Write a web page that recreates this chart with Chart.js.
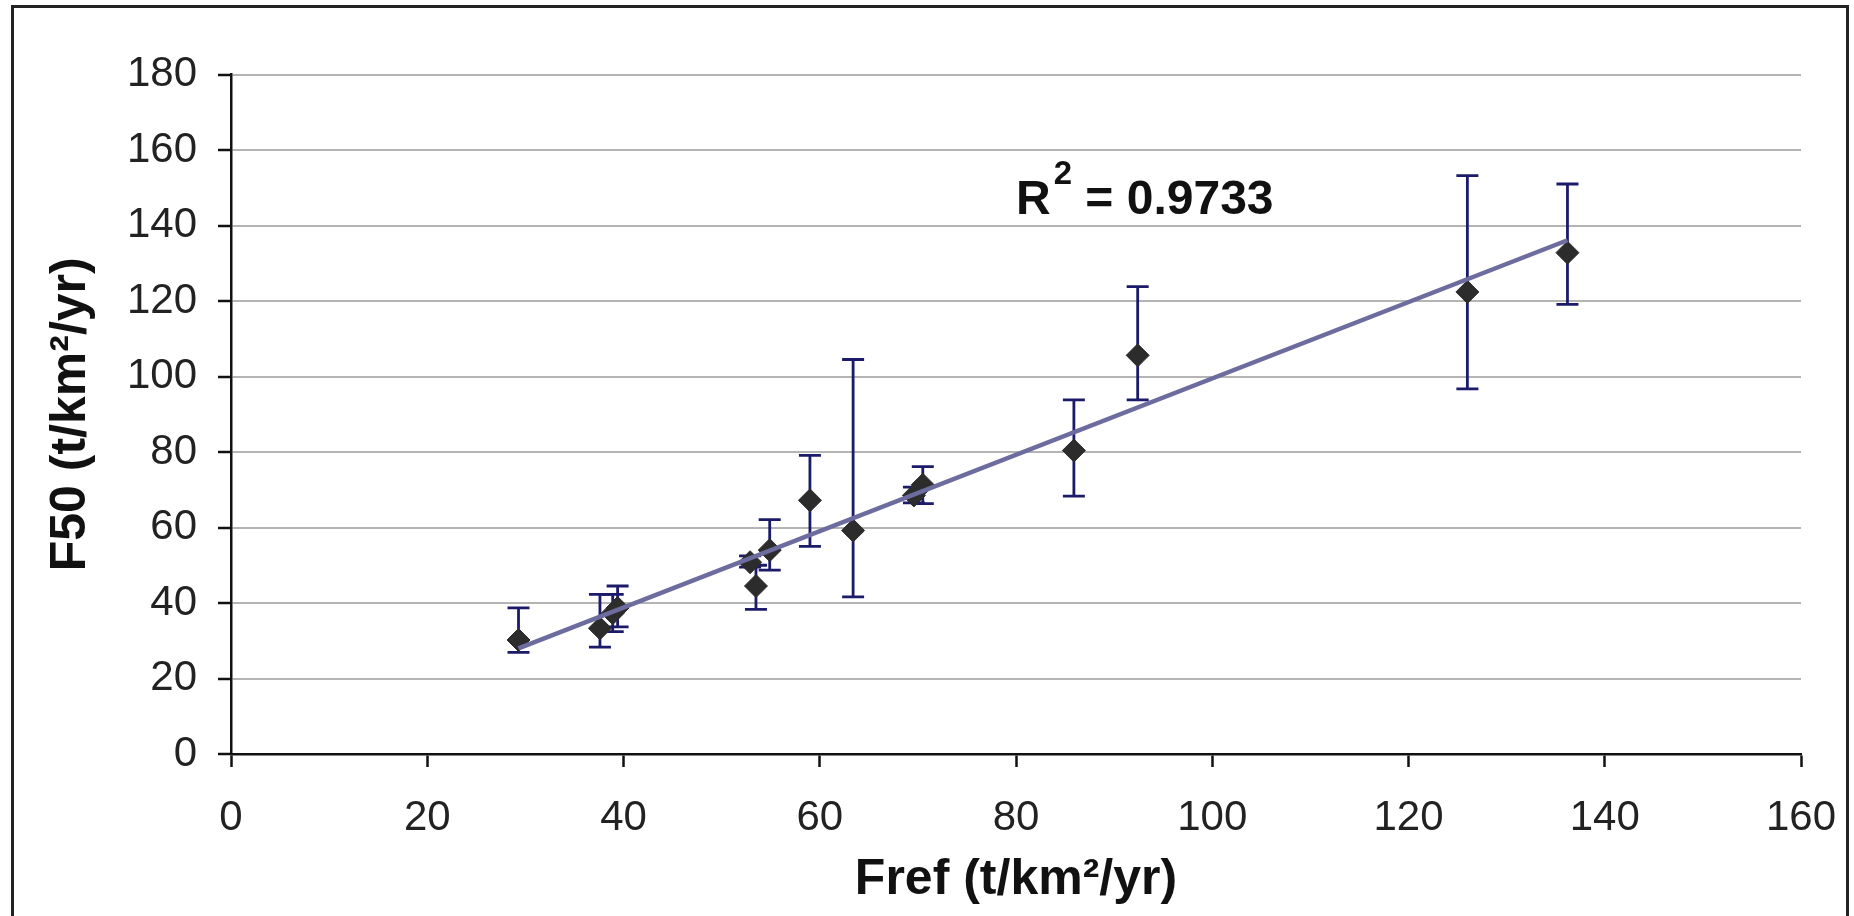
<!DOCTYPE html>
<html>
<head>
<meta charset="utf-8">
<title>F50 vs Fref</title>
<script src="https://cdn.jsdelivr.net/npm/chart.js@4.4.1/dist/chart.umd.min.js"></script>
<style>
  html, body { margin: 0; padding: 0; background: #fff; overflow: hidden; }
  #wrap { position: relative; width: 1854px; height: 916px; }
  #frame {
    position: absolute; left: 11px; top: 5px; width: 1838px; height: 1000px;
    border: 3px solid #222; box-sizing: border-box; pointer-events: none;
  }
  canvas { position: absolute; left: 0; top: 0; }
</style>
</head>
<body>
<div id="wrap">
  <canvas id="chart" width="1854" height="916"></canvas>
  <div id="frame"></div>
</div>
<script>
// ----------------------
// DATA
// ----------------------
const fref    = [29.3, 37.6, 38.9, 39.4, 52.9, 53.5, 54.9, 59.0, 63.4, 69.6, 70.5, 85.9, 92.4, 126.0, 136.2];
const f50     = [30.2, 33.3, 37.3, 38.7, 50.8, 44.5, 54.0, 67.2, 59.2, 68.5, 71.3, 80.4, 105.6, 122.4, 132.8];
const errHigh = [38.7, 42.3, 42.3, 44.5, 52.5, 50.0, 62.1, 79.1, 104.5, 70.7, 76.1, 93.8, 123.8, 153.2, 151.0];
const errLow  = [26.9, 28.3, 32.4, 33.7, 49.5, 38.3, 48.7, 55.0, 41.6, 66.5, 66.3, 68.3, 93.8, 96.7, 119.1];

// trend line end points
const trendX = [29.3, 136.2];
const trendY = [28.0, 136.1];

const xTicks = [0, 20, 40, 60, 80, 100, 120, 140, 160];
const yTicks = [0, 20, 40, 60, 80, 100, 120, 140, 160, 180];

const rSquaredText = "0.9733";
const rLabelPos = [80, 143]; // data coords of the R² label (left, baseline)

const FONT = "'Liberation Sans', Arial, sans-serif";

// ----------------------
// PLUGINS
// ----------------------
const errorBars = {
  id: "errorBars",
  beforeDatasetsDraw(chart) {
    const { ctx, scales: { x, y } } = chart;
    const cap = 11;
    ctx.save();
    ctx.strokeStyle = "#1b1b6a";
    ctx.lineWidth = 2.8;
    fref.forEach((v, i) => {
      const px = x.getPixelForValue(v);
      const top = y.getPixelForValue(errHigh[i]);
      const bot = y.getPixelForValue(errLow[i]);
      ctx.beginPath();
      ctx.moveTo(px, top); ctx.lineTo(px, bot);
      ctx.moveTo(px - cap, top); ctx.lineTo(px + cap, top);
      ctx.moveTo(px - cap, bot); ctx.lineTo(px + cap, bot);
      ctx.stroke();
    });
    ctx.restore();
  },
};

const rSquaredLabel = {
  id: "rSquaredLabel",
  afterDraw(chart) {
    const { ctx, scales: { x, y } } = chart;
    let px = x.getPixelForValue(rLabelPos[0]);
    const py = y.getPixelForValue(rLabelPos[1]);
    ctx.save();
    ctx.fillStyle = "#111";
    ctx.textBaseline = "alphabetic";
    ctx.textAlign = "left";
    ctx.font = `bold 48px ${FONT}`;
    ctx.fillText("R", px, py);
    px += ctx.measureText("R").width + 3;
    ctx.font = `bold 33px ${FONT}`;
    ctx.fillText("2", px, py - 30);
    px += ctx.measureText("2").width;
    ctx.font = `bold 48px ${FONT}`;
    ctx.fillText(" = " + rSquaredText, px, py);
    ctx.restore();
  },
};

// ----------------------
// CHART
// ----------------------
const ctx = document.getElementById("chart").getContext("2d");

new Chart(ctx, {
  type: "scatter",
  data: {
    datasets: [
      {
        label: "F50",
        data: fref.map((v, i) => ({ x: v, y: f50[i] })),
        pointStyle: "rectRot",
        pointRadius: 11.5,
        pointBackgroundColor: "#2c2c2c",
        pointBorderColor: "#2c2c2c",
        pointBorderWidth: 1,
        showLine: false,
        order: 2,
      },
      {
        label: "trend",
        type: "line",
        data: trendX.map((v, i) => ({ x: v, y: trendY[i] })),
        borderColor: "#6c6c9f",
        borderWidth: 4.5,
        pointRadius: 0,
        fill: false,
        order: 1,
      },
    ],
  },
  options: {
    responsive: false,
    animation: false,
    events: [],
    layout: { padding: { top: 74.5, right: 53, bottom: 0, left: 0 } },
    plugins: { legend: { display: false }, tooltip: { enabled: false } },
    scales: {
      x: {
        type: "linear",
        min: 0,
        max: 160,
        afterBuildTicks: (scale) => { scale.ticks = xTicks.map((v) => ({ value: v })); },
        afterFit: (scale) => {
          scale.height = 162;
          scale.paddingLeft = 0;
          scale.paddingRight = 0;
        },
        border: { color: "#111", width: 2.5 },
        grid: { drawOnChartArea: false, drawTicks: true, tickLength: 13, tickColor: "#111", tickWidth: 2.5 },
        ticks: { color: "#222", padding: 26, font: { family: FONT, size: 42 } },
        title: {
          display: true,
          text: "Fref (t/km²/yr)",
          color: "#111",
          font: { family: FONT, size: 50, weight: "bold" },
          padding: { top: 0, bottom: 6 },
        },
      },
      y: {
        type: "linear",
        min: 0,
        max: 180,
        afterBuildTicks: (scale) => { scale.ticks = yTicks.map((v) => ({ value: v })); },
        afterFit: (scale) => { scale.width = 231; },
        border: { color: "#111", width: 2.5 },
        grid: { color: "#b4b4b4", lineWidth: 2, drawTicks: true, tickLength: 13, tickColor: "#111", tickWidth: 2.5 },
        ticks: { color: "#222", padding: 21, font: { family: FONT, size: 42 } },
        title: {
          display: true,
          text: "F50 (t/km²/yr)",
          color: "#111",
          font: { family: FONT, size: 50, weight: "bold" },
          padding: { top: 41, bottom: 0 },
        },
      },
    },
  },
  plugins: [errorBars, rSquaredLabel],
});
</script>
</body>
</html>
